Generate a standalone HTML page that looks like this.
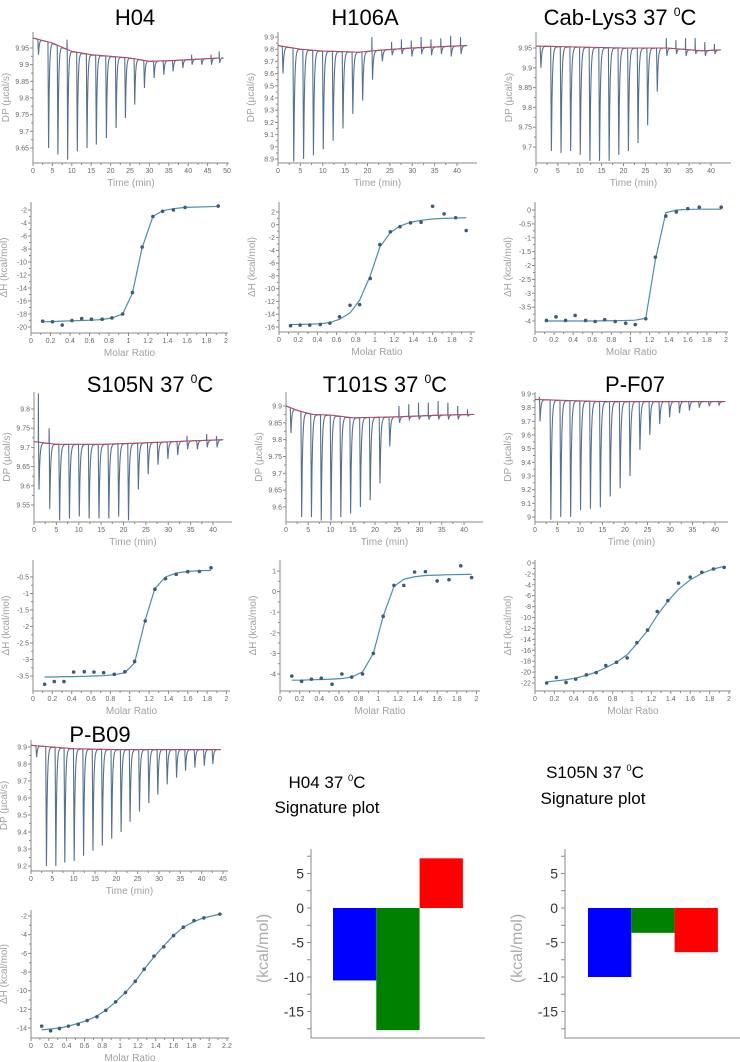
<!DOCTYPE html>
<html><head><meta charset="utf-8"><style>
html,body{margin:0;padding:0;background:#fff;}
svg{display:block;font-family:"Liberation Sans",sans-serif;}
</style></head><body>
<svg id="root" width="740" height="1062" viewBox="0 0 740 1062"></svg>
<script>
// ---------- DATA ----------
const h04Times=[1.3,3.9,6.3,8.8,11.3,13.8,16.2,18.8,21.3,23.7,26.1,28.6,31.1,33.6,36,38.5,40.9,43.4,45.9,48];
const h04Mins=[9.93,9.65,9.63,9.615,9.64,9.65,9.66,9.68,9.71,9.74,9.78,9.83,9.86,9.87,9.88,9.89,9.9,9.9,9.9,9.905];
const h04Ups=[null,null,null,9.975,null,null,null,null,null,null,null,null,null,null,null,null,9.93,null,9.93,9.94];
const h04BaseT=[0,5,10,15,20,25,30,35,40,48];
const h04BaseV=[9.98,9.965,9.94,9.93,9.925,9.92,9.91,9.912,9.915,9.92];

const inj19=[1,3.4,5.6,7.8,10,12.2,14.4,16.6,18.8,21,23.2,25.4,27.6,29.8,32,34.2,36.4,38.6,40.8];
const h106Mins=[9.6,8.88,8.9,8.93,8.98,9.05,9.15,9.27,9.38,9.55,9.7,9.75,9.76,9.74,9.76,9.75,9.76,9.74,9.76];
const h106Ups=[null,null,null,null,null,null,null,null,null,9.9,null,9.86,9.88,9.87,9.9,9.88,9.89,9.91,9.9];
const h106BaseT=[0,5,10,15,18,22,30,42];
const h106BaseV=[9.83,9.8,9.785,9.78,9.775,9.79,9.81,9.83];

const cabMins=[9.9,9.69,9.685,9.69,9.68,9.665,9.665,9.665,9.68,9.69,9.71,9.755,9.84,9.93,9.935,9.93,9.935,9.93,9.935];
const cabUps=[null,null,null,null,null,null,null,null,null,null,null,null,null,9.975,9.97,9.975,9.975,9.965,9.96];
const cabBaseT=[0,20,30,38,42];
const cabBaseV=[9.955,9.95,9.95,9.943,9.945];

const s105Mins=[9.59,9.54,9.51,9.515,9.52,9.515,9.515,9.515,9.52,9.51,9.59,9.63,9.655,9.67,9.68,9.695,9.695,9.7,9.7];
const s105Ups=[9.84,9.75,null,null,null,null,null,null,null,null,null,null,null,null,null,9.73,null,9.735,9.73];
const s105BaseT=[0,5,15,25,35,42];
const s105BaseV=[9.715,9.708,9.708,9.712,9.717,9.72];

const t101Mins=[9.82,9.57,9.57,9.56,9.56,9.57,9.58,9.6,9.62,9.67,9.78,9.85,9.86,9.86,9.86,9.86,9.86,9.86,9.87];
const t101Ups=[null,null,null,null,null,null,null,null,null,null,null,9.9,9.905,9.91,9.91,9.915,9.91,9.9,9.89];
const t101BaseT=[0,3,6,10,15,25,35,42];
const t101BaseV=[9.9,9.885,9.875,9.873,9.865,9.868,9.873,9.875];

const pf07Mins=[9.7,8.98,9.0,9.0,9.05,9.06,9.07,9.15,9.21,9.3,9.49,9.6,9.68,9.73,9.76,9.78,9.8,9.81,9.82];
const pf07Ups=[9.88,null,null,null,null,null,null,null,null,null,null,null,null,null,null,null,null,null,null];
const pf07BaseT=[0,5,15,25,42];
const pf07BaseV=[9.86,9.855,9.845,9.845,9.845];

const pb09Times=[1.2,3.5,5.7,7.8,10,12.2,14.4,16.6,18.8,21,23.1,25.3,27.5,29.6,31.8,34,36.1,38.3,40.5,42.5];
const pb09Mins=[9.84,9.2,9.2,9.22,9.23,9.26,9.29,9.32,9.36,9.4,9.46,9.52,9.57,9.62,9.68,9.72,9.76,9.78,9.79,9.8];
const pb09BaseT=[0,5,10,20,45];
const pb09BaseV=[9.91,9.9,9.89,9.885,9.885];

// ITC isotherms
const h04X=[0.12,0.22,0.32,0.42,0.52,0.62,0.73,0.83,0.94,1.04,1.14,1.25,1.35,1.46,1.58,1.92];
const h04Y=[-19.1,-19.2,-19.7,-19,-18.7,-18.8,-18.8,-18.6,-18,-14.7,-7.7,-3,-2.2,-2,-1.6,-1.4];
const h04Fit=[-19.2,-19.15,-19.1,-19.05,-19,-18.95,-18.85,-18.6,-18,-14.8,-7.8,-3,-2.1,-1.8,-1.6,-1.45];

const h106X=[0.12,0.22,0.32,0.43,0.53,0.63,0.74,0.84,0.95,1.05,1.16,1.26,1.37,1.48,1.6,1.72,1.84,1.95];
const h106Y=[-15.8,-15.7,-15.7,-15.6,-15.4,-14.4,-12.6,-12.5,-8.4,-3.1,-1.1,-0.3,0.3,0.4,2.9,1.7,1.1,-0.9];
const h106Fit=[-15.6,-15.6,-15.55,-15.5,-15.3,-14.8,-13.8,-11.8,-8,-3.5,-1.2,-0.2,0.4,0.7,0.9,1.0,1.05,1.1];

const cabX=[0.12,0.22,0.32,0.42,0.53,0.63,0.73,0.84,0.95,1.05,1.16,1.26,1.37,1.48,1.6,1.72,1.95];
const cabY=[-3.98,-3.85,-3.98,-3.8,-3.98,-4.02,-3.95,-4.02,-4.08,-4.13,-3.92,-1.7,-0.22,-0.07,0.05,0.1,0.1];
const cabFit=[-4,-4,-4,-4,-4,-4,-3.99,-3.99,-3.98,-3.97,-3.9,-1.8,-0.1,0,0.02,0.03,0.03];

const s105X=[0.12,0.22,0.32,0.42,0.53,0.63,0.73,0.84,0.95,1.05,1.16,1.26,1.37,1.48,1.6,1.72,1.84];
const s105Y=[-3.75,-3.67,-3.67,-3.38,-3.37,-3.38,-3.4,-3.45,-3.37,-3.06,-1.83,-0.87,-0.55,-0.42,-0.34,-0.33,-0.22];
const s105Fit=[-3.53,-3.53,-3.52,-3.52,-3.51,-3.5,-3.49,-3.46,-3.4,-3.1,-1.8,-0.85,-0.5,-0.38,-0.33,-0.31,-0.3];

const t101X=[0.12,0.22,0.32,0.42,0.53,0.63,0.73,0.84,0.95,1.05,1.16,1.26,1.37,1.48,1.6,1.72,1.84,1.95];
const t101Y=[-4.1,-4.35,-4.25,-4.2,-4.5,-4,-4.15,-4,-3,-1.2,0.3,0.3,0.95,0.97,0.52,0.58,1.25,0.68];
const t101Fit=[-4.3,-4.3,-4.28,-4.27,-4.25,-4.22,-4.15,-3.9,-3,-1.2,0.25,0.6,0.72,0.78,0.8,0.82,0.83,0.84];

const pf07X=[0.12,0.22,0.32,0.42,0.53,0.63,0.73,0.84,0.95,1.05,1.16,1.26,1.37,1.48,1.6,1.72,1.84,1.95];
const pf07Y=[-22,-21,-21.9,-21.3,-20.5,-20.1,-18.8,-18.2,-17.4,-14.6,-12.3,-8.9,-6.9,-3.7,-2.6,-1.7,-1.1,-0.8];
const pf07Fit=[-21.8,-21.6,-21.4,-21.1,-20.6,-20,-19.2,-18.2,-16.8,-14.8,-12.4,-9.6,-7,-4.8,-3.1,-1.9,-1.1,-0.6];

const pb09X=[0.12,0.22,0.32,0.42,0.53,0.63,0.74,0.84,0.95,1.06,1.17,1.27,1.38,1.49,1.6,1.71,1.83,1.94,2.12];
const pb09Y=[-13.8,-14.3,-14.05,-13.8,-13.6,-13.2,-12.8,-12.1,-11.2,-10.2,-9,-7.7,-6.3,-5.3,-4.1,-3.2,-2.5,-2.2,-1.8];
const pb09Fit=[-14.2,-14.1,-14,-13.8,-13.5,-13.2,-12.7,-12.1,-11.2,-10.2,-9,-7.7,-6.4,-5.2,-4.1,-3.2,-2.6,-2.2,-1.8];

// signature plots
const sigCategories=["dH","-TdS","dG"];
const sigH04=[-10.5,-17.7,7.2];
const sigS105N=[-10,-3.6,-6.4];
const sigTicks=[5,0,-5,-10,-15];
const sigColors=["#0000ff","#008000","#ff0000"];

// ---------- RENDER ----------
const NS="http://www.w3.org/2000/svg";
const root=document.getElementById('root');
function el(tag,attrs,parent){const e=document.createElementNS(NS,tag);for(const k in attrs)e.setAttribute(k,attrs[k]);(parent||root).appendChild(e);return e;}
function fmt(v){return String(parseFloat(v.toFixed(3)));}
function range(a,b,s){const r=[];for(let v=a;v<=b+s/1000;v+=s)r.push(parseFloat(v.toFixed(4)));return r;}
function interp(ts,vs,t){if(t<=ts[0])return vs[0];for(let i=1;i<ts.length;i++){if(t<=ts[i]){const f=(t-ts[i-1])/(ts[i]-ts[i-1]);return vs[i-1]+f*(vs[i]-vs[i-1]);}}return vs[vs.length-1];}

function axes(g,c,xticks,yticks,xlabel,ylabel){
  const sx=v=>c.x0+(v)*(c.xRefPx-c.x0)/c.xRef;
  const sy=v=>c.yApx+(v-c.yA)*(c.yBpx-c.yApx)/(c.yB-c.yA);
  const ax=el('path',{d:`M${c.x0},${c.top}V${c.axisY}H${c.xEnd}`,fill:'none',stroke:'#8a8a8a','stroke-width':1},g);
  
  
  xticks.forEach((v,i)=>{const x=sx(v);
    el('line',{x1:x,x2:x,y1:c.axisY,y2:c.axisY+3,stroke:'#8a8a8a'},g);
    if(i<xticks.length-1){const xm=(x+sx(xticks[i+1]))/2;el('line',{x1:xm,x2:xm,y1:c.axisY,y2:c.axisY+2,stroke:'#8a8a8a'},g);}
    const t=el('text',{x:x,y:c.axisY+10,'font-size':7,fill:'#666','text-anchor':'middle'},g);t.textContent=fmt(v);
    
    });
  yticks.forEach((v,i)=>{const y=sy(v);
    el('line',{x1:c.x0-3,x2:c.x0,y1:y,y2:y,stroke:'#8a8a8a'},g);
    if(i<yticks.length-1){const ym=(y+sy(yticks[i+1]))/2;el('line',{x1:c.x0-2,x2:c.x0,y1:ym,y2:ym,stroke:'#8a8a8a'},g);}
    const t=el('text',{x:c.x0-4,y:y+2.5,'font-size':7,fill:'#666','text-anchor':'end'},g);t.textContent=fmt(v);
    
    });
  const xl=el('text',{x:(c.x0+c.xEnd)/2,y:c.axisY+23,'font-size':10,fill:'#a0a0a0','text-anchor':'middle'},g);xl.textContent=xlabel;
  
  
  const cy=(c.top+c.axisY)/2;
  const yl=el('text',{x:c.x0-24,y:cy,'font-size':10,fill:'#a0a0a0','text-anchor':'middle',transform:`rotate(-90 ${c.x0-24} ${cy})`},g);yl.textContent=ylabel;
  
  
  return {sx,sy};
}

function dpPanel(name,c,times,mins,ups,bT,bV,yticks,xticks){
  const g=el('g',{});
  
  
  const {sx,sy}=axes(g,c,xticks,yticks,'Time (min)','DP (µcal/s)');
  let d=`M${sx(0)},${sy(bV[0])}`;
  const tEnd=c.tEnd;
  times.forEach((t,i)=>{
    const b=interp(bT,bV,t);
    d+=`L${sx(t-0.05)},${sy(b)}`;
    if(ups[i]!=null){d+=`L${sx(t-0.02)},${sy(ups[i])}L${sx(t+0.02)},${sy(b)}`;}
    d+=`L${sx(t+0.12)},${sy(mins[i])}`;
    for(let k=1;k<=8;k++){const tt=t+0.12+k*0.13;const bb=interp(bT,bV,tt);d+=`L${sx(tt)},${sy(bb+(mins[i]-bb)*Math.exp(-k*0.65))}`;}
  });
  d+=`L${sx(tEnd)},${sy(interp(bT,bV,tEnd))}`;
  const tr=el('path',{d,fill:'none',stroke:'#56708f','stroke-width':1.1},g);
  
  
  let bd='';bT.forEach((t,i)=>{bd+=(i?'L':'M')+sx(Math.min(t,tEnd))+','+sy(bV[i]);});
  const bl=el('path',{d:bd,fill:'none',stroke:'#b04a6a','stroke-width':1.1},g);
  
  
}

function itcPanel(name,c,xs,ys,fit,yticks,xticks){
  const g=el('g',{});
  
  
  const {sx,sy}=axes(g,c,xticks,yticks,'Molar Ratio','ΔH (kcal/mol)');
  let d='';xs.forEach((x,i)=>{d+=(i?'L':'M')+sx(x)+','+sy(fit[i]);});
  const f=el('path',{d,fill:'none',stroke:'#4a8fa8','stroke-width':1.2},g);
  
  
  xs.forEach((x,i)=>{const p=el('circle',{cx:sx(x),cy:sy(ys[i]),r:1.8,fill:'#3e5a78'},g);
    
    });
}

function title(txt,x,y,sup,size,name){
  const t=el('text',{x,y,'font-size':size||22,fill:'#000','text-anchor':'middle'});
  
  
  t.appendChild(document.createTextNode(txt));
  if(sup){const s=el('tspan',{'font-size':(size||22)*0.55,dy:-(size||22)*0.4},t);s.textContent='0';
    const s2=el('tspan',{dy:(size||22)*0.4},t);s2.textContent='C';}
}

title('H04',135,25,false,22,'title-h04');
title('H106A',365,25,false,22,'title-h106a');
title('Cab-Lys3 37 ',620,25,true,22,'title-cab-lys3');
title('S105N 37 ',150,392,true,22,'title-s105n');
title('T101S 37 ',385,392,true,22,'title-t101s');
title('P-F07',635,392,false,22,'title-pf07');
title('P-B09',100,742,false,22,'title-pb09');
title('H04 37 ',327,788,true,17,'title-sig-h04');
title('S105N  37 ',595,778,true,17,'title-sig-s105n');
{const t=el('text',{x:327,y:813,'font-size':17,'text-anchor':'middle'});t.textContent='Signature plot';

}
{const t=el('text',{x:593,y:804,'font-size':17,'text-anchor':'middle'});t.textContent='Signature plot';

}

const x50=range(0,50,5),x40=range(0,40,5),x45=range(0,45,5),m2=range(0,2,0.2),m22=range(0,2.2,0.2);
dpPanel('h04',{x0:33,xRef:50,xRefPx:227,xEnd:229,axisY:163,top:32,yA:9.95,yApx:48,yB:9.65,yBpx:148,tEnd:48.5},h04Times,h04Mins,h04Ups,h04BaseT,h04BaseV,range(9.65,9.95,0.05),x50);
dpPanel('h106a',{x0:278,xRef:40,xRefPx:457,xEnd:477,axisY:163,top:32,yA:9.9,yApx:37,yB:8.9,yBpx:159,tEnd:42.3},inj19,h106Mins,h106Ups,h106BaseT,h106BaseV,range(8.9,9.9,0.1),x40);
dpPanel('cab-lys3',{x0:536,xRef:40,xRefPx:711,xEnd:731,axisY:163,top:32,yA:9.95,yApx:48,yB:9.7,yBpx:147,tEnd:42.3},inj19,cabMins,cabUps,cabBaseT,cabBaseV,range(9.7,9.95,0.05),x40);
dpPanel('s105n',{x0:34,xRef:40,xRefPx:213,xEnd:232,axisY:522,top:392,yA:9.8,yApx:409,yB:9.55,yBpx:505,tEnd:42.3},inj19,s105Mins,s105Ups,s105BaseT,s105BaseV,range(9.55,9.8,0.05),x40);
dpPanel('t101s',{x0:286,xRef:40,xRefPx:464,xEnd:483,axisY:522,top:392,yA:9.9,yApx:406,yB:9.6,yBpx:507,tEnd:42.3},inj19,t101Mins,t101Ups,t101BaseT,t101BaseV,range(9.6,9.9,0.05),x40);
dpPanel('pf07',{x0:535,xRef:40,xRefPx:715,xEnd:728,axisY:522,top:392,yA:9.9,yApx:394,yB:9,yBpx:517,tEnd:42.3},inj19,pf07Mins,pf07Ups,pf07BaseT,pf07BaseV,range(9,9.9,0.1),x40);
dpPanel('pb09',{x0:31,xRef:45,xRefPx:223,xEnd:228,axisY:871,top:740,yA:9.9,yApx:747,yB:9.2,yBpx:866,tEnd:44.5},pb09Times,pb09Mins,pb09Times.map(()=>null),pb09BaseT,pb09BaseV,range(9.2,9.9,0.1),x45);

itcPanel('h04',{x0:31,xRef:2,xRefPx:226,xEnd:228,axisY:333,top:202,yA:-2,yApx:210,yB:-20,yBpx:327},h04X,h04Y,h04Fit,range(-20,-2,2),m2);
itcPanel('h106a',{x0:279,xRef:2,xRefPx:471,xEnd:475,axisY:332,top:202,yA:2,yApx:212,yB:-16,yBpx:327},h106X,h106Y,h106Fit,range(-16,2,2),m2);
itcPanel('cab-lys3',{x0:535,xRef:2,xRefPx:726,xEnd:728,axisY:332,top:202,yA:0,yApx:210,yB:-4,yBpx:321},cabX,cabY,cabFit,range(-4,0,0.5),m2);
itcPanel('s105n',{x0:33,xRef:2,xRefPx:226.5,xEnd:230,axisY:691,top:560,yA:-0.5,yApx:577,yB:-3.5,yBpx:676},s105X,s105Y,s105Fit,range(-3.5,-0.5,0.5),m2);
itcPanel('t101s',{x0:280,xRef:2,xRefPx:476.5,xEnd:480,axisY:691,top:560,yA:1,yApx:571,yB:-4,yBpx:674},t101X,t101Y,t101Fit,range(-4,1,1),m2);
itcPanel('pf07',{x0:535,xRef:2,xRefPx:729,xEnd:731,axisY:691,top:560,yA:0,yApx:563,yB:-22,yBpx:683},pf07X,pf07Y,pf07Fit,range(-22,0,2),m2);
itcPanel('pb09',{x0:31,xRef:2.2,xRefPx:227,xEnd:229,axisY:1038,top:910,yA:-2,yApx:916,yB:-14,yBpx:1028},pb09X,pb09Y,pb09Fit,range(-14,-2,2),m22);

function sigPlot(name,vals,x0,xEnd,barX0){
  const g=el('g',{});
  
  
  const zero=908,per=6.9,top=849,bottom=1038;
  const sy=v=>zero-v*per;
  const ax=el('path',{d:`M${x0},${top}V${bottom}H${xEnd}`,fill:'none',stroke:'#8a8a8a','stroke-width':1},g);
  
  
  for(let v=7.5;v>=-17.5;v-=2.5){const y=sy(v);el('line',{x1:x0-4,x2:x0,y1:y,y2:y,stroke:'#8a8a8a'},g);}
  sigTicks.forEach(v=>{const t=el('text',{x:x0-7,y:sy(v)+5,'font-size':14,fill:'#333','text-anchor':'end'},g);t.textContent=String(v);
    
    });
  const cy=(top+bottom)/2+5, lx=x0-43;
  const yl=el('text',{x:lx,y:cy,'font-size':16,fill:'#aaa','text-anchor':'middle',transform:`rotate(-90 ${lx} ${cy})`},g);yl.textContent='(kcal/mol)';
  
  
  const bw=43.3;
  vals.forEach((v,i)=>{const y1=Math.min(sy(0),sy(v)),h=Math.abs(sy(v)-sy(0));
    const r=el('rect',{x:barX0+i*bw,y:y1,width:bw,height:h,fill:sigColors[i]},g);
    
    });
}
sigPlot('h04',sigH04,311,485,333);
sigPlot('s105n',sigS105N,565,740,588);
</script>
</body></html>
